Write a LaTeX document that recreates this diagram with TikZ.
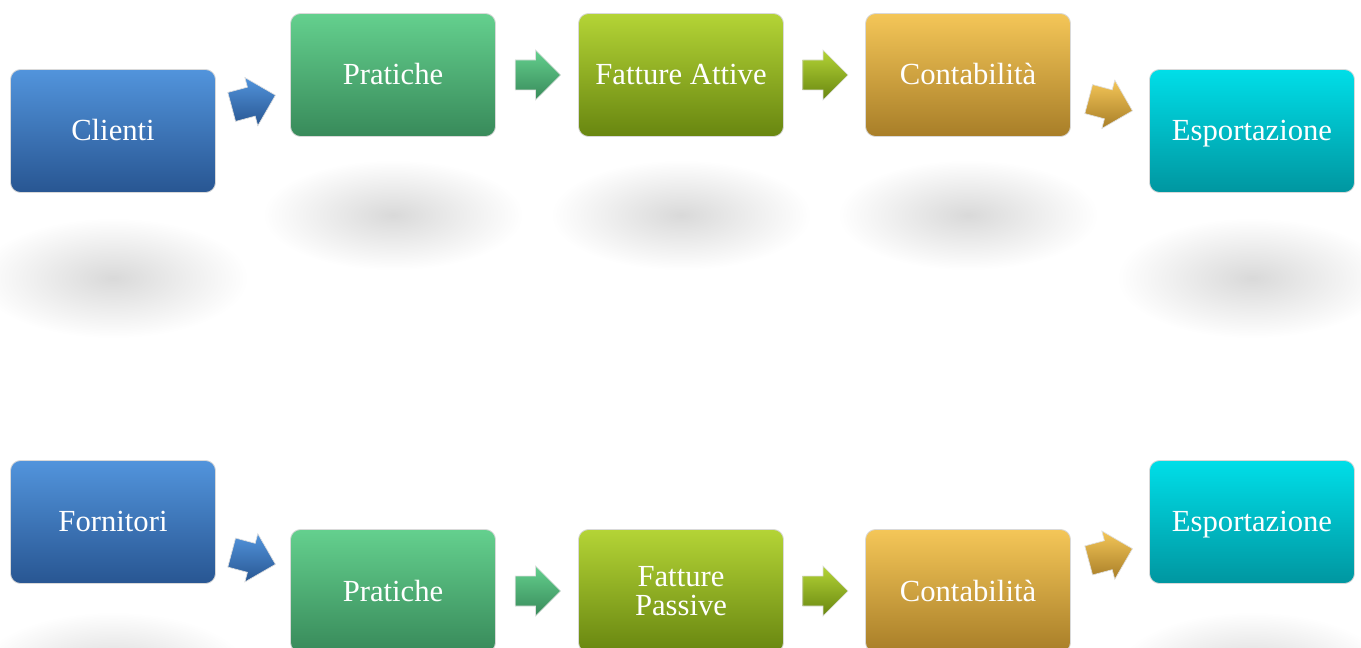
\documentclass[tikz,border=0pt]{standalone}
\usepackage{fontspec}
\setmainfont{Liberation Serif}
\usetikzlibrary{shapes.arrows,fadings,calc}

\definecolor{bluetop}{RGB}{82,148,220}
\definecolor{bluemid}{RGB}{64,120,190}
\definecolor{bluebot}{RGB}{40,86,146}
\definecolor{greentop}{RGB}{100,208,142}
\definecolor{greenmid}{RGB}{80,176,116}
\definecolor{greenbot}{RGB}{56,138,90}
\definecolor{olivetop}{RGB}{180,212,54}
\definecolor{olivemid}{RGB}{150,182,36}
\definecolor{olivebot}{RGB}{104,134,16}
\definecolor{goldtop}{RGB}{244,198,88}
\definecolor{goldmid}{RGB}{214,166,64}
\definecolor{goldbot}{RGB}{168,126,40}
\definecolor{cyantop}{RGB}{0,222,232}
\definecolor{cyanmid}{RGB}{0,196,206}
\definecolor{cyanbot}{RGB}{0,150,160}

\tikzfading[name=softglow, inner color=transparent!0, outer color=transparent!100]

\begin{document}
\begin{tikzpicture}[x=0.75pt,y=0.75pt,yscale=-1,xscale=1,
  stage/.style={rounded corners=7.5pt, minimum width=153.75pt, minimum height=92.25pt,
    draw=gray!30, line width=0.6pt, text=white, align=center, inner sep=0pt,
    font=\fontsize{23}{22}\selectfont, text height=15pt, text depth=0pt},
  flow/.style={single arrow, single arrow head extend=7.5pt, minimum height=34pt,
    inner xsep=0pt, inner ysep=11pt, draw=gray!25, line width=0.5pt, xshift=-5pt},
  glow/.style={black, opacity=0.15, path fading=softglow}]
\useasboundingbox (0,0) rectangle (1361,648);

%Shadows
\fill[glow] (113,278) ellipse (135 and 60);
\fill[glow] (393,215) ellipse (130 and 55);
\fill[glow] (681,215) ellipse (130 and 55);
\fill[glow] (968,215) ellipse (130 and 55);
\fill[glow] (1252,278) ellipse (135 and 60);
\fill[glow] (113,672) ellipse (135 and 60);
\fill[glow] (1252,672) ellipse (135 and 60);

%Row of clients
\node[stage, top color=bluetop, middle color=bluemid, bottom color=bluebot] (cli) at (113,131) {Clienti};
\node[stage, top color=greentop, middle color=greenmid, bottom color=greenbot] (praA) at (393,75) {Pratiche};
\node[stage, top color=olivetop, middle color=olivemid, bottom color=olivebot] (fatA) at (681,75) {Fatture Attive};
\node[stage, top color=goldtop, middle color=goldmid, bottom color=goldbot] (conA) at (968,75) {Contabilità};
\node[stage, top color=cyantop, middle color=cyanmid, bottom color=cyanbot] (espA) at (1252,131) {Esportazione};

%Row of suppliers
\node[stage, top color=bluetop, middle color=bluemid, bottom color=bluebot] (forn) at (113,522) {Fornitori};
\node[stage, top color=greentop, middle color=greenmid, bottom color=greenbot] (praB) at (393,591) {Pratiche};
\node[stage, top color=olivetop, middle color=olivemid, bottom color=olivebot, text height=, text depth=] (fatB) at (681,591) {Fatture\\Passive};
\node[stage, top color=goldtop, middle color=goldmid, bottom color=goldbot] (conB) at (968,591) {Contabilità};
\node[stage, top color=cyantop, middle color=cyanmid, bottom color=cyanbot] (espB) at (1252,522) {Esportazione};

%Arrows
\node[flow, rotate=15, top color=bluetop, bottom color=bluebot] at ($(cli.east)!0.5!(praA.west)$) {};
\node[flow, top color=greentop, bottom color=greenbot] at ($(praA.east)!0.5!(fatA.west)$) {};
\node[flow, top color=olivetop, bottom color=olivebot] at ($(fatA.east)!0.5!(conA.west)$) {};
\node[flow, rotate=-15, top color=goldtop, bottom color=goldbot] at ($(conA.east)!0.5!(espA.west)$) {};
\node[flow, rotate=-15, top color=bluetop, bottom color=bluebot] at ($(forn.east)!0.5!(praB.west)$) {};
\node[flow, top color=greentop, bottom color=greenbot] at ($(praB.east)!0.5!(fatB.west)$) {};
\node[flow, top color=olivetop, bottom color=olivebot] at ($(fatB.east)!0.5!(conB.west)$) {};
\node[flow, rotate=15, top color=goldtop, bottom color=goldbot] at ($(conB.east)!0.5!(espB.west)$) {};

\end{tikzpicture}
\end{document}
